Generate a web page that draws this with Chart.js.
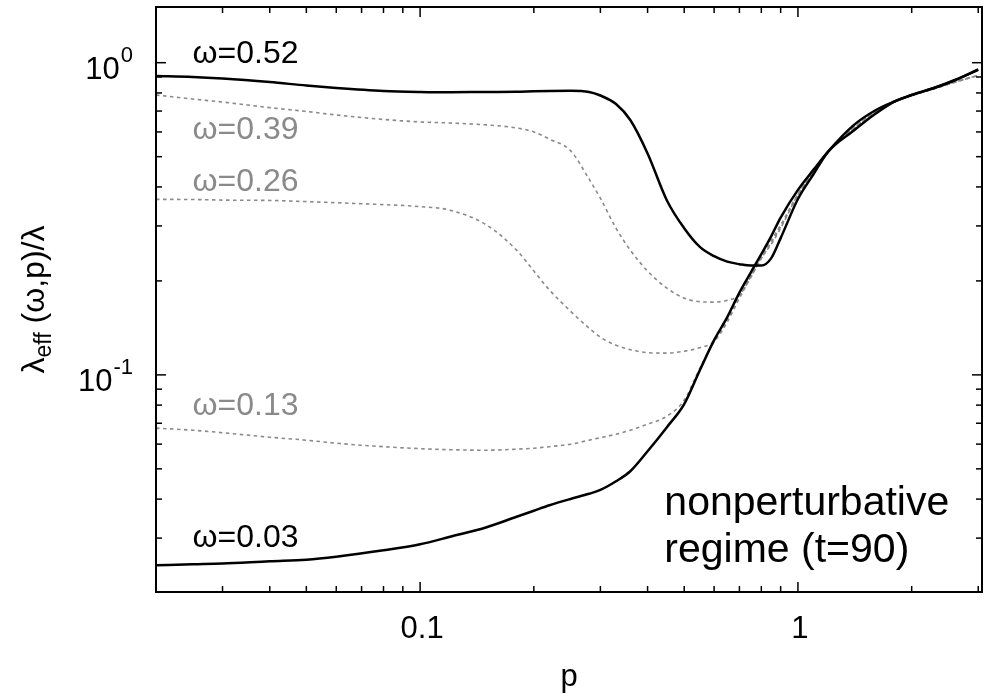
<!DOCTYPE html>
<html>
<head>
<meta charset="utf-8">
<title>lambda_eff(omega,p)</title>
<script src="https://cdn.jsdelivr.net/npm/chart.js@4.4.1/dist/chart.umd.min.js"></script>
<style>
  html, body { margin: 0; padding: 0; background: #fff; }
  #wrap { width: 988px; height: 698px; }
</style>
</head>
<body>
<div id="wrap"><canvas id="lamChart" width="988" height="698"></canvas></div>
<script>
// p values (log x axis)
const pValues = [0.02, 0.025, 0.03, 0.04, 0.05, 0.06, 0.08, 0.1, 0.12, 0.15, 0.18, 0.2, 0.22, 0.25, 0.28, 0.3, 0.33, 0.36, 0.4, 0.45,
                 0.5, 0.55, 0.6, 0.65, 0.7, 0.75, 0.8, 0.85, 0.9, 1.0, 1.1, 1.2, 1.4, 1.6, 1.8, 2.0, 2.3, 2.6, 3.0];

// lambda_eff / lambda
const w052 = [0.906, 0.900, 0.890, 0.867, 0.845, 0.830, 0.812, 0.806, 0.804, 0.806, 0.807, 0.810, 0.812, 0.813, 0.806, 0.785, 0.737, 0.655, 0.512, 0.362,
              0.295, 0.257, 0.240, 0.2305, 0.2263, 0.2239, 0.2239, 0.2366, 0.2742, 0.3658, 0.4396, 0.5172, 0.604, 0.685, 0.751, 0.788, 0.831, 0.880, 0.948];
const w039 = [0.788, 0.765, 0.748, 0.718, 0.698, 0.680, 0.658, 0.646, 0.641, 0.632, 0.618, 0.600, 0.569, 0.523, 0.424, 0.368, 0.295, 0.251, 0.215, 0.1896,
              0.1761, 0.1716, 0.171, 0.1735, 0.180, 0.206, 0.237, 0.262, 0.295, 0.378, 0.447, 0.515, 0.615, 0.692, 0.749, 0.786, 0.826, 0.866, 0.912];
const w026 = [0.365, 0.3645, 0.363, 0.362, 0.359, 0.356, 0.351, 0.346, 0.337, 0.302, 0.251, 0.215, 0.187, 0.160, 0.1412, 0.132, 0.1245, 0.1204, 0.1178, 0.1174,
              0.1191, 0.1222, 0.128, 0.1476, 0.176, 0.205, 0.236, 0.265, 0.298, 0.375, 0.448, 0.516, 0.612, 0.690, 0.748, 0.785, 0.826, 0.866, 0.91];
const w013 = [0.0675, 0.0665, 0.06527, 0.06314, 0.06176, 0.06041, 0.05888, 0.05802, 0.05759, 0.05737, 0.05781, 0.05823, 0.05888, 0.05997, 0.06176, 0.06291, 0.06455, 0.0665, 0.0695, 0.07373,
              0.08296, 0.1050, 0.128, 0.150, 0.178, 0.208, 0.240, 0.270, 0.302, 0.380, 0.450, 0.517, 0.618, 0.695, 0.750, 0.786, 0.827, 0.868, 0.91];
const w003 = [0.02455, 0.02473, 0.02486, 0.02529, 0.02557, 0.02614, 0.02741, 0.02867, 0.0303, 0.03249, 0.03511, 0.0367, 0.03823, 0.04005, 0.0416, 0.0428, 0.04563, 0.04913, 0.05693, 0.068,
              0.0806, 0.1035, 0.1292, 0.1531, 0.1835, 0.2126, 0.2436, 0.2784, 0.319, 0.3914, 0.4544, 0.5185, 0.6287, 0.7027, 0.751, 0.788, 0.831, 0.878, 0.952];

// curve labels: text, anchor p, anchor value (baseline, left aligned)
const curveLabels = ['ω=0.52', 'ω=0.39', 'ω=0.26', 'ω=0.13', 'ω=0.03'];
const labelP = [0.025, 0.025, 0.025, 0.025, 0.025];
const labelV = [1.0, 0.568, 0.389, 0.0743, 0.0281];

// axis ticks
const xTickValues = [0.1, 1];
const xTickLabels = ['0.1', '1'];
const yTickValues = [0.1, 1];
const yTickExp = ['-1', '0'];

const BLACK = '#000000';
const GREY = '#8a8a8a';
const FONT = '"Liberation Sans", Arial, Helvetica, sans-serif';

function pts(vals) {
    return pValues.map((p, i) => ({ x: p, y: vals[i] }));
}

function minorTicks(min, max) {
    const out = [];
    [0.01, 0.1, 1].forEach(dec => {
        for (let k = 2; k <= 9; k++) {
            const v = dec * k;
            if (v > min * 1.001 && v < max) out.push(v);
        }
    });
    return out;
}

// frame, inward ticks, tick labels, titles and annotations
const framePlugin = {
    id: 'frame',
    afterDatasetsDraw(chart) {
        const ctx = chart.ctx;
        const a = chart.chartArea;
        const xs = chart.scales.x;
        const ys = chart.scales.y;
        ctx.save();

        function seg(x1, y1, x2, y2) {
            ctx.beginPath();
            ctx.moveTo(x1, y1);
            ctx.lineTo(x2, y2);
            ctx.stroke();
        }

        ctx.strokeStyle = BLACK;
        ctx.lineWidth = 1.5;
        minorTicks(xs.min, xs.max).forEach(v => {
            const px = xs.getPixelForValue(v);
            seg(px, a.bottom, px, a.bottom - 6);
            seg(px, a.top, px, a.top + 6);
        });
        xTickValues.forEach(v => {
            const px = xs.getPixelForValue(v);
            seg(px, a.bottom, px, a.bottom - 10);
            seg(px, a.top, px, a.top + 10);
        });
        minorTicks(ys.min, ys.max).forEach(v => {
            const py = ys.getPixelForValue(v);
            seg(a.left, py, a.left + 6, py);
            seg(a.right, py, a.right - 6, py);
        });
        yTickValues.forEach(v => {
            const py = ys.getPixelForValue(v);
            seg(a.left, py, a.left + 10, py);
            seg(a.right, py, a.right - 10, py);
        });

        ctx.lineWidth = 2;
        ctx.strokeRect(a.left, a.top, a.right - a.left, a.bottom - a.top);

        // x tick labels
        ctx.fillStyle = BLACK;
        ctx.font = '31px ' + FONT;
        ctx.textAlign = 'center';
        ctx.textBaseline = 'alphabetic';
        xTickValues.forEach((v, i) => {
            ctx.fillText(xTickLabels[i], xs.getPixelForValue(v) + 2, 638);
        });

        // y tick labels 10^n
        yTickValues.forEach((v, i) => {
            const py = ys.getPixelForValue(v);
            ctx.font = '22px ' + FONT;
            ctx.textAlign = 'right';
            const ew = ctx.measureText(yTickExp[i]).width;
            ctx.fillText(yTickExp[i], 133, py - 1);
            ctx.font = '31px ' + FONT;
            ctx.fillText('10', 133 - ew - 1, py + 16);
        });

        // x title
        ctx.font = '31px ' + FONT;
        ctx.textAlign = 'center';
        ctx.fillText('p', (a.left + a.right) / 2, 686);

        // y title, rotated
        ctx.save();
        ctx.translate(44, (a.top + a.bottom) / 2);
        ctx.rotate(-Math.PI / 2);
        ctx.textAlign = 'left';
        const big = '32px ' + FONT;
        const small = '23px ' + FONT;
        ctx.font = big;
        const w1 = ctx.measureText('λ').width;
        const w3 = ctx.measureText(' (ω,p)/λ').width;
        ctx.font = small;
        const w2 = ctx.measureText('eff').width;
        let tx = -(w1 + w2 + w3) / 2;
        ctx.font = big;
        ctx.fillText('λ', tx, 0);
        tx += w1;
        ctx.font = small;
        ctx.fillText('eff', tx, 7);
        tx += w2;
        ctx.font = big;
        ctx.fillText(' (ω,p)/λ', tx, 0);
        ctx.restore();

        // curve labels
        ctx.font = '32px ' + FONT;
        ctx.textAlign = 'left';
        curveLabels.forEach((t, i) => {
            ctx.fillStyle = (i === 0 || i === 4) ? BLACK : GREY;
            ctx.fillText(t, xs.getPixelForValue(labelP[i]), ys.getPixelForValue(labelV[i]));
        });

        // regime note
        ctx.fillStyle = BLACK;
        ctx.font = '41px ' + FONT;
        ctx.fillText('nonperturbative', xs.getPixelForValue(0.443), ys.getPixelForValue(0.0355));
        ctx.fillText('regime (t=90)', xs.getPixelForValue(0.443), ys.getPixelForValue(0.0252));

        ctx.restore();
    }
};

const solid = { borderColor: BLACK, borderWidth: 2.5, pointRadius: 0, fill: false, cubicInterpolationMode: 'monotone' };
const dotted = { borderColor: GREY, borderWidth: 1.6, borderDash: [3.5, 3.5], pointRadius: 0, fill: false, cubicInterpolationMode: 'monotone' };

const ctx = document.getElementById('lamChart').getContext('2d');
const lamChart = new Chart(ctx, {
    type: 'line',
    data: {
        datasets: [
            Object.assign({ label: 'ω=0.52', data: pts(w052) }, solid),
            Object.assign({ label: 'ω=0.03', data: pts(w003) }, solid),
            Object.assign({ label: 'ω=0.39', data: pts(w039) }, dotted),
            Object.assign({ label: 'ω=0.26', data: pts(w026) }, dotted),
            Object.assign({ label: 'ω=0.13', data: pts(w013) }, dotted)
        ]
    },
    options: {
        responsive: false,
        devicePixelRatio: 1,
        animation: false,
        layout: { padding: { left: 156, right: 6, top: 7, bottom: 106 } },
        plugins: { legend: { display: false }, tooltip: { enabled: false } },
        scales: {
            x: { type: 'logarithmic', min: 0.02, max: 3.07, display: false },
            y: { type: 'logarithmic', min: 0.02016, max: 1.508, display: false }
        }
    },
    plugins: [framePlugin]
});
</script>
</body>
</html>
